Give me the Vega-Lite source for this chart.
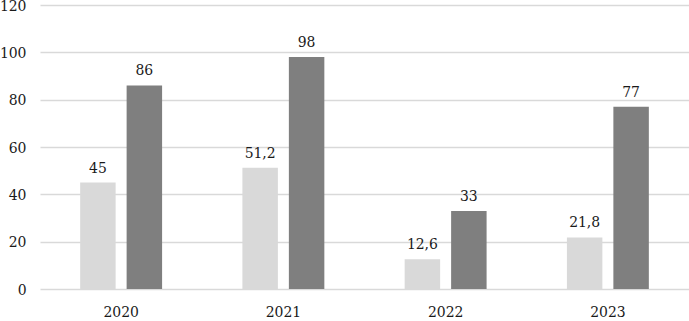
{
  "$schema": "https://vega.github.io/schema/vega-lite/v6.json",
  "width": 649,
  "height": 284,
  "autosize": {"type": "none"},
  "padding": {"left": 40, "top": 5, "right": 0, "bottom": 32},
  "background": "white",
  "config": {"view": {"stroke": null}, "font": "DejaVu Serif Condensed"},
  "data": {"values": [
    {"year": "2020", "series": "A", "value": 45, "label": "45"},
    {"year": "2020", "series": "B", "value": 86, "label": "86"},
    {"year": "2021", "series": "A", "value": 51.2, "label": "51,2"},
    {"year": "2021", "series": "B", "value": 98, "label": "98"},
    {"year": "2022", "series": "A", "value": 12.6, "label": "12,6"},
    {"year": "2022", "series": "B", "value": 33, "label": "33"},
    {"year": "2023", "series": "A", "value": 21.8, "label": "21,8"},
    {"year": "2023", "series": "B", "value": 77, "label": "77"}
  ]},
  "encoding": {
    "x": {"field": "year", "type": "nominal", "title": null,
      "scale": {"paddingInner": 0.495, "paddingOuter": 0.2475},
      "axis": {"labelAngle": 0, "domain": false, "ticks": false, "grid": false, "labelFont": "DejaVu Serif Condensed", "labelFontSize": 15.5, "labelColor": "#1a1a1a", "labelPadding": 15}},
    "xOffset": {"field": "series", "type": "nominal", "scale": {"paddingInner": 0.2366, "paddingOuter": 0}},
    "y": {"field": "value", "type": "quantitative", "title": null,
      "scale": {"domain": [0, 120], "nice": false},
      "axis": {"values": [0, 20, 40, 60, 80, 100, 120], "domain": false, "ticks": false, "gridColor": "#d9d9d9", "gridWidth": 1.3, "labelFont": "DejaVu Serif Condensed", "labelFontSize": 15.5, "labelColor": "#1a1a1a", "labelPadding": 14}}
  },
  "layer": [
    {"mark": {"type": "bar"},
     "encoding": {"color": {"field": "series", "type": "nominal", "legend": null, "scale": {"domain": ["A", "B"], "range": ["#d9d9d9", "#7f7f7f"]}}}},
    {"mark": {"type": "text", "baseline": "bottom", "dy": -7, "font": "DejaVu Serif Condensed", "fontSize": 15.5, "color": "#1a1a1a"},
     "encoding": {"text": {"field": "label"}}}
  ]
}
